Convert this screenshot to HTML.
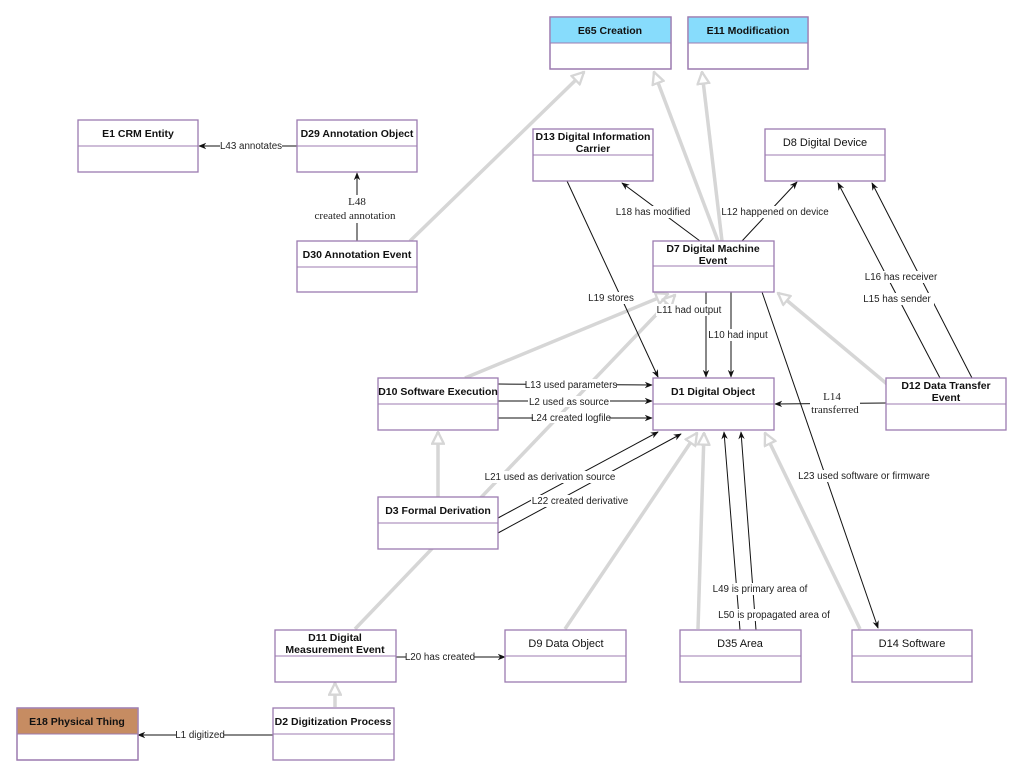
<!DOCTYPE html>
<html><head><meta charset="utf-8"><style>
html,body{margin:0;padding:0;background:#fff;}
svg{display:block;font-family:"Liberation Sans",sans-serif;}
.b{fill:#fff;stroke:#9c7bb0;stroke-width:1.3;}
.t{font-size:10.5px;font-weight:bold;text-anchor:middle;fill:#111;}
.n{font-size:11px;text-anchor:middle;fill:#111;}
.g{stroke:#d6d6d6;stroke-width:3.5;fill:none;marker-end:url(#h);}
.k{stroke:#111;stroke-width:1;fill:none;marker-end:url(#a);}
.l{font-size:9.8px;fill:#222;text-anchor:middle;}
.lb{fill:#fff;}
.s{font-family:"Liberation Serif",serif;font-size:11px;fill:#222;text-anchor:middle;}
</style></head><body>
<svg width="1024" height="778" viewBox="0 0 1024 778">
<defs>
<marker id="h" viewBox="0 0 12 12" refX="11" refY="6" markerWidth="4" markerHeight="4" orient="auto" markerUnits="strokeWidth">
<path d="M1,1 L11,6 L1,11 Z" fill="#fff" stroke="#d6d6d6" stroke-width="2"/></marker>
<marker id="a" viewBox="0 0 10 10" refX="9" refY="5" markerWidth="8" markerHeight="8" orient="auto" markerUnits="userSpaceOnUse">
<path d="M0,1 L10,5 L0,9 L3,5 Z" fill="#111"/></marker>
</defs>

<line class="g" x1="410" y1="241" x2="584" y2="72"/>
<line class="g" x1="718" y1="241" x2="654" y2="72"/>
<line class="g" x1="722" y1="241" x2="702" y2="72"/>
<line class="g" x1="465" y1="378" x2="668" y2="294"/>
<line class="g" x1="438" y1="497" x2="438" y2="432"/>
<line class="g" x1="355" y1="629" x2="675" y2="295"/>
<line class="g" x1="887" y1="384" x2="778" y2="293"/>
<line class="g" x1="565" y1="629" x2="697" y2="433"/>
<line class="g" x1="698" y1="629" x2="704" y2="433"/>
<line class="g" x1="860" y1="629" x2="765" y2="433"/>
<line class="g" x1="335" y1="707" x2="335" y2="683"/>

<line class="k" x1="297" y1="146" x2="199" y2="146"/>
<line class="k" x1="357" y1="241" x2="357" y2="173"/>
<line class="k" x1="567" y1="181" x2="658" y2="377"/>
<line class="k" x1="700" y1="241" x2="622" y2="183"/>
<line class="k" x1="742" y1="241" x2="797" y2="182"/>
<line class="k" x1="706" y1="292" x2="706" y2="377"/>
<line class="k" x1="731" y1="292" x2="731" y2="377"/>
<line class="k" x1="762" y1="292" x2="878" y2="628"/>
<line class="k" x1="940" y1="378" x2="838" y2="183"/>
<line class="k" x1="972" y1="378" x2="872" y2="183"/>
<line class="k" x1="886" y1="403" x2="775" y2="404"/>
<line class="k" x1="498" y1="384" x2="652" y2="385"/>
<line class="k" x1="498" y1="401" x2="652" y2="401"/>
<line class="k" x1="498" y1="418" x2="652" y2="418"/>
<line class="k" x1="498" y1="518" x2="658" y2="432"/>
<line class="k" x1="498" y1="533" x2="681" y2="434"/>
<line class="k" x1="740" y1="630" x2="724" y2="432"/>
<line class="k" x1="756" y1="630" x2="741" y2="432"/>
<line class="k" x1="396" y1="657" x2="505" y2="657"/>
<line class="k" x1="273" y1="735" x2="138" y2="735"/>

<rect class="lb" x="220" y="140" width="62" height="12"/><text class="l" x="251" y="149">L43 annotates</text>
<rect class="lb" x="305" y="195" width="100" height="28"/>
<text class="s" x="357" y="205">L48</text><text class="s" x="355" y="219">created annotation</text>
<rect class="lb" x="586" y="292" width="50" height="12"/><text class="l" x="611" y="301">L19 stores</text>
<rect class="lb" x="615" y="206" width="76" height="12"/><text class="l" x="653" y="215">L18 has modified</text>
<rect class="lb" x="722" y="206" width="106" height="12"/><text class="l" x="775" y="215">L12 happened on device</text>
<rect class="lb" x="656" y="304" width="66" height="12"/><text class="l" x="689" y="313">L11 had output</text>
<rect class="lb" x="707" y="329" width="62" height="12"/><text class="l" x="738" y="338">L10 had input</text>
<rect class="lb" x="865" y="271" width="78" height="12"/><text class="l" x="901" y="280">L16 has receiver</text>
<rect class="lb" x="862" y="293" width="72" height="12"/><text class="l" x="897" y="302">L15 has sender</text>
<rect class="lb" x="810" y="390" width="50" height="28"/>
<text class="s" x="832" y="400">L14</text><text class="s" x="835" y="413">transferred</text>
<rect class="lb" x="526" y="379" width="90" height="11"/><text class="l" x="571" y="388">L13 used parameters</text>
<rect class="lb" x="528" y="396" width="82" height="11"/><text class="l" x="569" y="405">L2 used as source</text>
<rect class="lb" x="533" y="412" width="76" height="11"/><text class="l" x="571" y="421">L24 created logfile</text>
<rect class="lb" x="486" y="471" width="128" height="12"/><text class="l" x="550" y="480">L21 used as derivation source</text>
<rect class="lb" x="531" y="495" width="96" height="12"/><text class="l" x="580" y="504">L22 created derivative</text>
<rect class="lb" x="708" y="583" width="100" height="12"/><text class="l" x="760" y="592">L49 is primary area of</text>
<rect class="lb" x="718" y="609" width="112" height="12"/><text class="l" x="774" y="618">L50 is propagated area of</text>
<rect class="lb" x="798" y="470" width="132" height="12"/><text class="l" x="864" y="479">L23 used software or firmware</text>
<rect class="lb" x="406" y="651" width="68" height="12"/><text class="l" x="440" y="660">L20 has created</text>
<rect class="lb" x="176" y="729" width="48" height="12"/><text class="l" x="200" y="738">L1 digitized</text>

<g>
<rect class="b" x="550" y="17" width="121" height="52"/><rect x="550.6" y="17.6" width="119.8" height="25" fill="#87dcfc"/><line x1="550" y1="43" x2="671" y2="43" stroke="#9c7bb0"/><rect x="550" y="17" width="121" height="52" fill="none" stroke="#9c7bb0" stroke-width="1.3"/><text class="t" x="610" y="34">E65 Creation</text>
<rect class="b" x="688" y="17" width="120" height="52"/><rect x="688.6" y="17.6" width="118.8" height="25" fill="#87dcfc"/><line x1="688" y1="43" x2="808" y2="43" stroke="#9c7bb0"/><rect x="688" y="17" width="120" height="52" fill="none" stroke="#9c7bb0" stroke-width="1.3"/><text class="t" x="748" y="34">E11 Modification</text>

<rect class="b" x="78" y="120" width="120" height="52"/><line x1="78" y1="146" x2="198" y2="146" stroke="#9c7bb0"/><text class="t" x="138" y="137">E1 CRM Entity</text>
<rect class="b" x="297" y="120" width="120" height="52"/><line x1="297" y1="146" x2="417" y2="146" stroke="#9c7bb0"/><text class="t" x="357" y="137">D29 Annotation Object</text>
<rect class="b" x="297" y="241" width="120" height="51"/><line x1="297" y1="267" x2="417" y2="267" stroke="#9c7bb0"/><text class="t" x="357" y="258">D30 Annotation Event</text>

<rect class="b" x="533" y="129" width="120" height="52"/><line x1="533" y1="155" x2="653" y2="155" stroke="#9c7bb0"/><text class="t" x="593" y="140">D13 Digital Information</text><text class="t" x="593" y="152">Carrier</text>
<rect class="b" x="765" y="129" width="120" height="52"/><line x1="765" y1="155" x2="885" y2="155" stroke="#9c7bb0"/><text class="n" x="825" y="146">D8 Digital Device</text>

<rect class="b" x="653" y="241" width="121" height="51"/><line x1="653" y1="266" x2="774" y2="266" stroke="#9c7bb0"/><text class="t" x="713" y="252">D7 Digital Machine</text><text class="t" x="713" y="264">Event</text>

<rect class="b" x="378" y="378" width="120" height="52"/><line x1="378" y1="404" x2="498" y2="404" stroke="#9c7bb0"/><text class="t" x="438" y="395">D10 Software Execution</text>
<rect class="b" x="653" y="378" width="121" height="52"/><line x1="653" y1="404" x2="774" y2="404" stroke="#9c7bb0"/><text class="t" x="713" y="395">D1 Digital Object</text>
<rect class="b" x="886" y="378" width="120" height="52"/><line x1="886" y1="404" x2="1006" y2="404" stroke="#9c7bb0"/><text class="t" x="946" y="389">D12 Data Transfer</text><text class="t" x="946" y="401">Event</text>

<rect class="b" x="378" y="497" width="120" height="52"/><line x1="378" y1="523" x2="498" y2="523" stroke="#9c7bb0"/><text class="t" x="438" y="514">D3 Formal Derivation</text>

<rect class="b" x="275" y="630" width="121" height="52"/><line x1="275" y1="656" x2="396" y2="656" stroke="#9c7bb0"/><text class="t" x="335" y="641">D11 Digital</text><text class="t" x="335" y="653">Measurement Event</text>
<rect class="b" x="505" y="630" width="121" height="52"/><line x1="505" y1="656" x2="626" y2="656" stroke="#9c7bb0"/><text class="n" x="566" y="647">D9 Data Object</text>
<rect class="b" x="680" y="630" width="121" height="52"/><line x1="680" y1="656" x2="801" y2="656" stroke="#9c7bb0"/><text class="n" x="740" y="647">D35 Area</text>
<rect class="b" x="852" y="630" width="120" height="52"/><line x1="852" y1="656" x2="972" y2="656" stroke="#9c7bb0"/><text class="n" x="912" y="647">D14 Software</text>

<rect class="b" x="17" y="708" width="121" height="52"/><rect x="17.6" y="708.6" width="119.8" height="25.4" fill="#c68c62"/><line x1="17" y1="734" x2="138" y2="734" stroke="#9c7bb0"/><rect x="17" y="708" width="121" height="52" fill="none" stroke="#9c7bb0" stroke-width="1.3"/><text class="t" x="77" y="725">E18 Physical Thing</text>
<rect class="b" x="273" y="708" width="121" height="52"/><line x1="273" y1="734" x2="394" y2="734" stroke="#9c7bb0"/><text class="t" x="333" y="725">D2 Digitization Process</text>
</g>
</svg>
</body></html>
